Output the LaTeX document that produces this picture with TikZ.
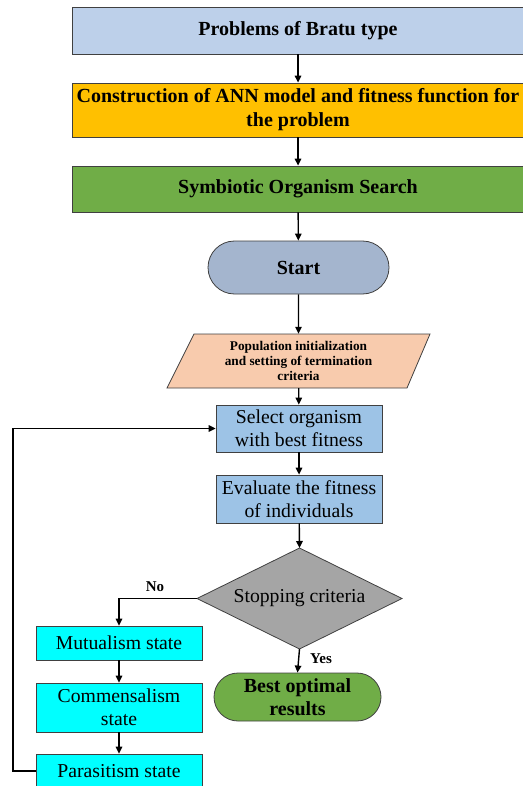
\documentclass[tikz,border=0pt]{standalone}
\usepackage{fontspec}
\setmainfont{Liberation Serif}
\usetikzlibrary{arrows.meta,shapes.geometric,shapes.misc}
\definecolor{cA}{HTML}{BDD0EA}
\definecolor{cB}{HTML}{FFC000}
\definecolor{cC}{HTML}{70AD47}
\definecolor{cStart}{HTML}{A4B5CE}
\definecolor{cPara}{HTML}{F8CBAD}
\definecolor{cSel}{HTML}{9DC3E6}
\definecolor{cDia}{HTML}{A5A5A5}
\definecolor{cCyan}{HTML}{00FFFF}
\definecolor{cLine}{HTML}{404040}
\begin{document}
\begin{tikzpicture}[x=1pt,y=-1pt,
  box/.style={draw=cLine, line width=0.8pt, inner sep=0pt, align=center},
  bigbold/.style={font=\bfseries\fontsize{20}{24}\selectfont},
  reg/.style={font=\fontsize{19.7}{23}\selectfont},
  arr/.style={-{Triangle[length=7pt,width=6.5pt]}, line width=1.4pt, black},
  lbl/.style={font=\bfseries\fontsize{15}{17}\selectfont}]
\useasboundingbox (0,0) rectangle (522,786);

\node[box, bigbold, fill=cA, minimum width=452, minimum height=47] (prob) at (298,30.5) {Problems of Bratu type};
\node[box, bigbold, fill=cB, minimum width=452, minimum height=54] (ann) at (298,110) {Construction of ANN model and fitness function for\\the problem};
\node[box, bigbold, fill=cC, minimum width=452, minimum height=46] (sos) at (298,189) {Symbiotic Organism Search};
\node[box, bigbold, fill=cStart, rounded rectangle, minimum width=181, minimum height=53] (start) at (298.5,267.5) {Start};

\fill[cPara] (194,334) -- (430,334) -- (407,388) -- (167,388) -- cycle;
\draw[cLine, line width=0.8pt] (194,334) -- (430,334) -- (407,388) -- (167,388) -- cycle;
\node[inner sep=0pt, minimum width=236, minimum height=54, align=center,
  font=\bfseries\fontsize{13.3}{15.3}\selectfont] (para) at (298.5,361)
  {Population initialization\\and setting of termination\\criteria};

\node[box, reg, fill=cSel, minimum width=166, minimum height=47] (sel) at (299,428.5) {Select organism\\with best fitness};
\node[box, reg, fill=cSel, minimum width=166, minimum height=48] (eval) at (299,499) {Evaluate the fitness\\of individuals};

\coordinate (diaT) at (299.5,548);
\coordinate (diaB) at (299.5,649);
\coordinate (diaL) at (197,598.5);
\coordinate (diaR) at (402,598.5);
\filldraw[fill=cDia, draw=cLine, line width=0.8pt] (diaT) -- (diaR) -- (diaB) -- (diaL) -- cycle;
\node[reg, inner sep=0pt] (dia) at (299.5,598.5) {Stopping criteria};

\node[box, reg, fill=cCyan, minimum width=166, minimum height=34] (mut) at (119,643) {Mutualism state};
\node[box, reg, fill=cCyan, minimum width=166, minimum height=49] (com) at (119,707.5) {Commensalism\\state};
\node[box, reg, fill=cCyan, minimum width=166, minimum height=34] (par) at (119,771) {Parasitism state};

\node[box, fill=cC, rounded rectangle, minimum width=167, minimum height=48, font=\bfseries\fontsize{20}{23}\selectfont] (best) at (297.5,697) {Best optimal\\results};

\draw[arr] (prob) -- (ann);
\draw[arr] (ann) -- (sos);
\draw[arr] (sos) -- (start);
\draw[arr] (start) -- (para);
\draw[arr] (para) -- (sel);
\draw[arr] (sel) -- (eval);
\draw[arr] (eval) -- (diaT);
\draw[arr] (diaL) -| (mut.north);
\node[lbl] (no) at (155,587) {No};
\draw[arr] (diaB) -- (best.north);
\node[lbl] (yes) at (321,659) {Yes};
\draw[arr] (mut) -- (com);
\draw[arr] (com) -- (par);
\coordinate (lc) at (13,771);
\draw[arr] (par.west) -- (lc) |- (sel.west);
\end{tikzpicture}
\end{document}
